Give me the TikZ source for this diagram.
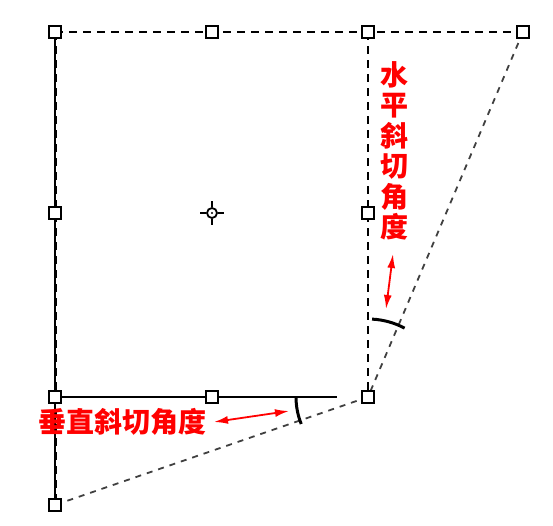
\documentclass[tikz,border=0pt]{standalone}
\usepackage{fontspec}
\newfontfamily\cjk{Noto Sans CJK SC}
\usetikzlibrary{arrows.meta}
\begin{document}
\begin{tikzpicture}[x=1pt,y=-1pt,
  handle/.style={draw=black,fill=white,line width=1.8pt,minimum size=11.5pt,inner sep=0pt,outer sep=0pt},
  dashedge/.style={draw=black,line width=2pt,dash pattern=on 8pt off 6pt},
  slant/.style={draw=black!75,line width=1.8pt,dash pattern=on 6pt off 6pt},
  solidedge/.style={draw=black,line width=1.6pt},
  anglearc/.style={draw=black,line width=3pt},
  redarrow/.style={draw=red,line width=1.8pt,{Latex[length=14pt,width=8pt]}-{Latex[length=14pt,width=8pt]}},
  lbl/.style={text=red,font=\cjk\bfseries\fontsize{28}{30.5}\selectfont,inner sep=0pt}]
\useasboundingbox (0,0) rectangle (553,525);
% corner coordinates
\coordinate (TL) at (55,32);
\coordinate (TM) at (212,32);
\coordinate (TR) at (368,32);
\coordinate (FTR) at (523,32);
\coordinate (ML) at (55,213);
\coordinate (C) at (212,213);
\coordinate (MR) at (368,213);
\coordinate (BL) at (55,397);
\coordinate (BM) at (212,397);
\coordinate (BR) at (368,397);
\coordinate (FBL) at (55,505);
\coordinate (BEnd) at (337,397);
% solid + dashed edges
\draw[solidedge] (TL) -- (FBL);
\draw[dashedge,line width=2.6pt] ([xshift=0.6pt]TL) -- ([xshift=0.6pt]FBL);
\draw[solidedge] (BL) -- (BEnd);
\draw[dashedge,line width=2.6pt] (BL) -- (BEnd);
% dashed rectangle
\draw[dashedge] (TL) -- (FTR);
\draw[dashedge] (TR) -- (BR);
% slanted lines
\draw[slant] (FTR) -- (BR);
\draw[slant] (BR) -- (FBL);
% angle arcs centered at BR
\draw[anglearc] (BR) ++(-87:78) arc[start angle=-87,end angle=-62,radius=78];
\draw[anglearc] (BR) ++(158:72) arc[start angle=158,end angle=180,radius=72];
% handles
\foreach \p in {TL,TM,TR,FTR,ML,MR,BL,BM,BR,FBL}
  \node[handle] (h\p) at (\p) {};
% center handle
\node[draw=black,fill=white,circle,line width=1.8pt,minimum size=10pt,inner sep=0pt] (hC) at (C) {};
\draw[line width=1.8pt] (hC.north) -- ++(0,-6) (hC.south) -- ++(0,6)
  (hC.east) -- ++(6,0) (hC.west) -- ++(-6,0);
\fill (C) circle (1.2pt);
% labels
\node[lbl,align=center] (vlab) at (394,151) {水\\平\\斜\\切\\角\\度};
\node[lbl] (hlab) at (122,422) {垂直斜切角度};
\coordinate (va) at (393,254);
\coordinate (vb) at (386,309);
\coordinate (ha) at (214,422);
\coordinate (hb) at (289,411);
\draw[redarrow] (va) -- (vb);
\draw[redarrow] (ha) -- (hb);
\end{tikzpicture}
\end{document}
